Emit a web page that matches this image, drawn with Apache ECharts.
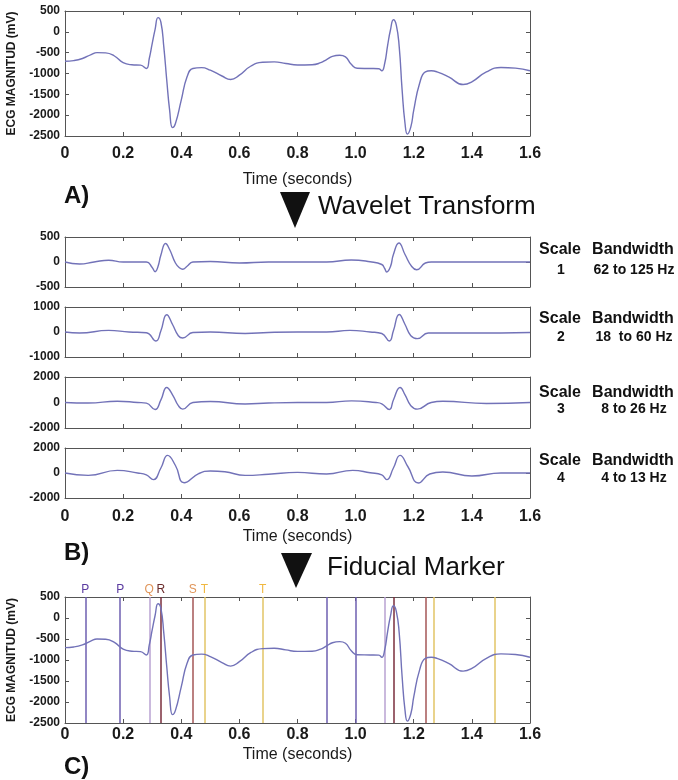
<!DOCTYPE html>
<html>
<head>
<meta charset="utf-8">
<script src="https://cdn.jsdelivr.net/npm/echarts@6/dist/echarts.min.js"></script>
<style>
  html, body { margin: 0; padding: 0; background: #fff; }
  #main { width: 678px; height: 780px; }
</style>
</head>
<body>
<div id="main"></div>
<script>
// raw ECG (panel A and C)
var ecgTime = [0, 0.03, 0.06, 0.09, 0.11, 0.14, 0.17, 0.20, 0.23, 0.26, 0.28, 0.29, 0.30, 0.31, 0.32, 0.33, 0.34, 0.35, 0.36, 0.37,
  0.38, 0.40, 0.42, 0.44, 0.47, 0.50, 0.54, 0.57, 0.60, 0.64, 0.68, 0.72, 0.76, 0.80, 0.85, 0.88, 0.90, 0.92, 0.945, 0.965,
  0.985, 1.005, 1.05, 1.08, 1.09, 1.10, 1.11, 1.12, 1.13, 1.14, 1.15, 1.16, 1.17, 1.178, 1.19, 1.20, 1.22, 1.24, 1.26, 1.28,
  1.32, 1.37, 1.40, 1.45, 1.50, 1.55, 1.60];
var ecgValue = [-705, -690, -640, -545, -500, -505, -580, -740, -790, -800, -880, -640, -285, 60, 340, 230, -360, -1150, -1880, -2300,
  -2200, -1640, -1080, -880, -860, -920, -1060, -1145, -1040, -820, -730, -720, -760, -795, -790, -740, -665, -590, -562, -600,
  -780, -875, -880, -885, -935, -760, -330, 50, 290, 160, -360, -1400, -2200, -2455, -2280, -1880, -1240, -960, -935, -960,
  -1080, -1265, -1200, -960, -855, -870, -935];

// wavelet scales (panel B)
var s1Time = [0, 0.05, 0.10, 0.15, 0.20, 0.28, 0.30, 0.31, 0.32, 0.33, 0.346, 0.36, 0.38, 0.395, 0.405, 0.42, 0.44, 0.50, 0.60, 0.70,
  0.80, 0.90, 0.985, 1.05, 1.09, 1.10, 1.107, 1.12, 1.13, 1.149, 1.17, 1.193, 1.21, 1.24, 1.26, 1.40, 1.60];
var s1Value = [0, -40, 0, 35, 0, 0, -110, -195, -90, 140, 370, 250, -20, -120, -145, -85, 0, 10, -20, 0,
  0, 0, 40, 5, -50, -130, -200, -90, 150, 380, 150, -90, -155, -20, 0, 0, 0];

var s2Time = [0, 0.05, 0.15, 0.22, 0.28, 0.313, 0.33, 0.35, 0.37, 0.39, 0.405, 0.44, 0.50, 0.62, 0.70, 0.80, 0.90, 0.98, 1.05, 1.09,
  1.116, 1.13, 1.15, 1.17, 1.19, 1.212, 1.25, 1.40, 1.60];
var s2Value = [0, -40, 65, 0, -30, -360, 50, 690, 300, -150, -240, -20, 0, -60, -20, 0, 0, 65, 0, -60,
  -360, 50, 700, 300, -150, -265, -40, -40, -20];

var s3Time = [0, 0.08, 0.18, 0.25, 0.28, 0.31, 0.33, 0.35, 0.37, 0.39, 0.405, 0.44, 0.50, 0.62, 0.70, 0.80, 0.90, 0.986, 1.07, 1.09,
  1.116, 1.13, 1.153, 1.17, 1.19, 1.212, 1.26, 1.30, 1.45, 1.60];
var s3Value = [0, -40, 100, 0, -50, -550, 200, 1180, 600, -250, -520, 0, 80, -120, -40, 0, 0, 130, 0, -100,
  -550, 200, 1180, 600, -250, -520, 0, 100, -80, 0];

var s4Time = [0, 0.08, 0.18, 0.25, 0.28, 0.304, 0.33, 0.353, 0.38, 0.41, 0.46, 0.50, 0.55, 0.62, 0.70, 0.80, 0.90, 0.99, 1.05, 1.09,
  1.107, 1.13, 1.153, 1.18, 1.216, 1.255, 1.30, 1.40, 1.50, 1.60];
var s4Value = [0, -190, 210, 0, -150, -530, 400, 1410, 600, -780, -50, 160, 100, -190, -100, 50, -80, 210, 20, -150,
  -530, 400, 1410, 500, -800, -80, 80, -240, 0, 0];

var scaleNums = ['1', '2', '3', '4'];
var bandwidths = ['62 to 125 Hz', '18  to 60 Hz', '8 to 26 Hz', '4 to 13 Hz'];

// fiducial markers (panel C)
var markerTime = [0.075, 0.192, 0.295, 0.33, 0.44, 0.478, 0.675, 0.904, 1.0, 1.096, 1.134, 1.244, 1.268, 1.481];
var markerType = ['P', 'P', 'Q', 'R', 'S', 'T', 'T', 'P', 'P', 'Q', 'R', 'S', 'T', 'T'];
var markerLabel = ['P', 'P', 'Q', 'R', 'S', 'T', 'T', '', '', '', '', '', '', ''];

var xTickLabels = ['0', '0.2', '0.4', '0.6', '0.8', '1.0', '1.2', '1.4', '1.6'];

var FONT = 'Liberation Sans, Arial, sans-serif';
var lineColor = '#7272b8';
var lineCol = { P: '#6e5fb0', Q: '#b9a2d2', R: '#7a2e3c', S: '#a45656', T: '#e2c466' };
var labelCol = { P: '#5a3aa0', Q: '#e0955a', R: '#6a2a2a', S: '#e0955a', T: '#f0b840' };

function zip(t, v) {
  return t.map(function (x, i) { return [x, v[i]]; });
}

// grid layout: top, height, y range, interval, show x labels, label margin, name gap
var panels = [
  { top: 11, height: 125, min: -2500, max: 500, step: 500, xLabels: true, lm: 10, ng: 36, yName: 'ECG MAGNITUD (mV)' },
  { top: 237, height: 50, min: -500, max: 500, step: 500 },
  { top: 307, height: 50, min: -1000, max: 1000, step: 1000 },
  { top: 377, height: 51, min: -2000, max: 2000, step: 2000 },
  { top: 448, height: 50, min: -2000, max: 2000, step: 2000, xLabels: true, lm: 11, ng: 31 },
  { top: 597, height: 126, min: -2500, max: 500, step: 500, xLabels: true, lm: 4, ng: 24, yName: 'ECG MAGNITUD (mV)' }
];

var grids = [], xAxes = [], yAxes = [];
var axisLineStyle = { color: '#555', width: 1 };
var tickStyle = { show: true, inside: true, length: 4, lineStyle: { color: '#555' } };

panels.forEach(function (p, i) {
  grids.push({ left: 65, right: 148, top: p.top, height: p.height, containLabel: false, outerBoundsMode: 'none' });
  xAxes.push({
    type: 'value', gridIndex: i, position: 'bottom', min: 0, max: 1.6, interval: 0.2,
    axisLine: { onZero: false, lineStyle: axisLineStyle }, axisTick: tickStyle, splitLine: { show: false },
    axisLabel: {
      show: !!p.xLabels, margin: p.lm || 8, fontSize: 16, fontWeight: 'bold', color: '#1a1a1a', fontFamily: FONT,
      formatter: function (v, idx) { return xTickLabels[idx]; }
    },
    name: p.xLabels ? 'Time (seconds)' : '', nameLocation: 'middle', nameGap: p.ng || 20,
    nameTextStyle: { fontSize: 16, color: '#1a1a1a', fontFamily: FONT }
  });
  xAxes.push({
    type: 'value', gridIndex: i, position: 'top', min: 0, max: 1.6, interval: 0.2,
    axisLine: { onZero: false, lineStyle: axisLineStyle }, axisTick: tickStyle, axisLabel: { show: false }, splitLine: { show: false }
  });
  yAxes.push({
    type: 'value', gridIndex: i, position: 'left', min: p.min, max: p.max, interval: p.step,
    axisLine: { show: true, onZero: false, lineStyle: axisLineStyle }, axisTick: tickStyle, splitLine: { show: false },
    axisLabel: {
      fontSize: 12, fontWeight: 'bold', color: '#1a1a1a', fontFamily: FONT, margin: 5,
      formatter: function (v) { return String(v); }
    },
    name: p.yName || '', nameLocation: 'middle', nameGap: 47,
    nameTextStyle: { fontSize: 12, fontWeight: 'bold', color: '#1a1a1a', fontFamily: FONT }
  });
  yAxes.push({
    type: 'value', gridIndex: i, position: 'right', min: p.min, max: p.max, interval: p.step,
    axisLine: { show: true, onZero: false, lineStyle: axisLineStyle }, axisTick: tickStyle, axisLabel: { show: false }, splitLine: { show: false }
  });
});

var seriesData = [
  zip(ecgTime, ecgValue),
  zip(s1Time, s1Value),
  zip(s2Time, s2Value),
  zip(s3Time, s3Value),
  zip(s4Time, s4Value),
  zip(ecgTime, ecgValue)
];

var markData = markerTime.map(function (t, i) {
  var k = markerType[i];
  return {
    xAxis: t,
    lineStyle: { color: lineCol[k], width: 1.5, type: 'solid' },
    label: { show: markerLabel[i] !== '', formatter: markerLabel[i], color: labelCol[k] }
  };
});

var series = seriesData.map(function (d, i) {
  var s = {
    type: 'line', xAxisIndex: i * 2, yAxisIndex: i * 2, data: d,
    showSymbol: false, smooth: 0.5,
    lineStyle: { color: lineColor, width: 1.4 }, z: 3, silent: true
  };
  if (i === 5) {
    s.markLine = {
      silent: true, symbol: ['none', 'none'], animation: false, z: 2,
      label: { position: 'end', distance: 1, fontSize: 12, fontFamily: FONT },
      data: markData
    };
  }
  return s;
});

var graphics = [
  { type: 'text', left: 64, top: 184, style: { text: 'A)', font: 'bold 24px ' + FONT, fill: '#111' } },
  { type: 'text', left: 64, top: 541, style: { text: 'B)', font: 'bold 24px ' + FONT, fill: '#111' } },
  { type: 'text', left: 64, top: 755, style: { text: 'C)', font: 'bold 24px ' + FONT, fill: '#111' } },
  { type: 'polygon', shape: { points: [[280, 192], [310, 192], [295, 228]] }, style: { fill: '#111' } },
  { type: 'polygon', shape: { points: [[281, 553], [312, 553], [296, 588]] }, style: { fill: '#111' } },
  { type: 'text', left: 318, top: 194, style: { text: 'Wavelet Transform', font: '26px ' + FONT, fill: '#111' } },
  { type: 'text', left: 327, top: 555, style: { text: 'Fiducial Marker', font: '26px ' + FONT, fill: '#111' } }
];

var line1Y = [250, 319, 393, 461];
var line2Y = [270, 337, 409, 478];
scaleNums.forEach(function (n, i) {
  graphics.push({ type: 'text', x: 560, y: line1Y[i], style: { text: 'Scale', font: 'bold 16px ' + FONT, fill: '#111', textAlign: 'center', textVerticalAlign: 'middle' } });
  graphics.push({ type: 'text', x: 633, y: line1Y[i], style: { text: 'Bandwidth', font: 'bold 16px ' + FONT, fill: '#111', textAlign: 'center', textVerticalAlign: 'middle' } });
  graphics.push({ type: 'text', x: 561, y: line2Y[i], style: { text: n, font: 'bold 14px ' + FONT, fill: '#111', textAlign: 'center', textVerticalAlign: 'middle' } });
  graphics.push({ type: 'text', x: 634, y: line2Y[i], style: { text: bandwidths[i], font: 'bold 14px ' + FONT, fill: '#111', textAlign: 'center', textVerticalAlign: 'middle' } });
});

var option = {
  animation: false,
  backgroundColor: '#fff',
  grid: grids,
  xAxis: xAxes,
  yAxis: yAxes,
  series: series,
  graphic: graphics
};

var myChart = echarts.init(document.getElementById('main'));
myChart.setOption(option);
</script>
</body>
</html>
